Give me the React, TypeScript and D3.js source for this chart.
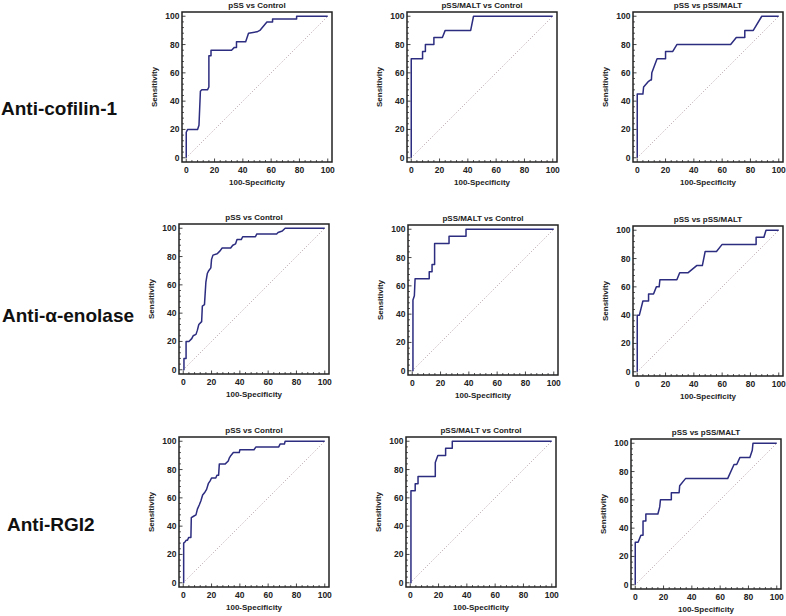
import React from "react";
import * as d3 from "d3";

type Pt = [number, number];

// ---- data (100-Specificity, Sensitivity) ----
const cofilinPssCtrl: Pt[] = [[0,0],[0,18],[1,20],[8,20],[9,23],[10,47],[11,48],[15,48],[16,50],[16,72],[17.5,72],[17.5,76],[32,76],[34,78],[35.5,78],[35.5,82],[42,82],[44,88],[50,89],[52,90],[57,96],[61,96],[61,98],[78,98],[78,100],[100,100]];
const cofilinMaltCtrl: Pt[] = [[0,0],[0,70],[8,70],[8,75],[10,75],[10,80],[16,80],[16,85],[22,85],[24,90],[42,90],[44,100],[100,100]];
const cofilinPssMalt: Pt[] = [[0,0],[0,45],[4,45],[4.5,50],[8,54],[9.5,55],[10,55],[10.3,60],[14,70],[20,70],[20,75],[25,75],[28,80],[66,80],[70,85],[76,85],[76,90],[82,90],[88,100],[100,100]];
const enolasePssCtrl: Pt[] = [[0,0],[0.5,0],[0.5,8],[2,8],[2,20],[4,20],[6,22],[7,24],[9,25],[10,28],[11,32],[13,34],[13.5,45],[15,46],[16,62],[17,68],[18,70],[19.5,72],[20,78],[21,81],[24,82],[26,84],[27.5,86],[33.5,86],[35,88],[37,89],[38,92],[41,92],[42,94],[51,94],[52,96],[66,96],[67,97],[70,98],[72,100],[100,100]];
const enolaseMaltCtrl: Pt[] = [[0,0],[0.5,0],[0.5,50],[1.5,53],[2,65],[12,65],[12,70],[14,70],[14,75],[15.8,75],[15.8,90],[26,90],[26,95],[38,95],[38,100],[100,100]];
const enolasePssMalt: Pt[] = [[0,0],[0,40],[1.5,40],[4,50],[8,50],[8,55],[11.5,55],[13.5,60],[15.5,60],[16,65],[28,65],[30,70],[36,70],[42,75],[46,75],[48,85],[56,85],[60,90],[84,90],[84,95],[89.5,95],[91,100],[100,100]];
const rgiPssCtrl: Pt[] = [[0,0],[0.3,0],[0.3,28],[1.4,29],[2,30],[3,30],[3.8,32],[5.4,32],[5.7,46],[7.3,47],[9,48],[10,52],[11.3,55],[12.5,58],[13.7,62],[15.3,64],[16.5,66],[17.7,70],[19,72],[20,74],[23,74],[23.8,76],[25,76],[25.5,84],[29.7,84],[31.8,86],[32.5,88],[33.7,90],[35.4,92],[39.6,92],[40,94],[50,94],[51.4,96],[67.5,96],[68.4,98],[71.5,98],[72,100],[100,100]];
const rgiMaltCtrl: Pt[] = [[0,0],[0.5,0],[0.5,65],[3.5,65],[3.5,70],[5.5,70],[5.5,75],[17.7,75],[17.7,85],[19.5,90],[25,90],[25,95],[29.7,95],[29.7,100],[100,100]];
const rgiPssMalt: Pt[] = [[0,0],[0,30],[2,30],[4,35],[5.5,35],[5.5,45],[7.5,45],[7.5,50],[16,50],[17.3,55],[17.8,60],[25.5,60],[25.5,65],[31,65],[31.4,70],[35.5,75],[65.3,75],[69.8,85],[71.7,85],[74,90],[81,90],[82.7,95],[83.2,100],[100,100]];

const rowLabels = ["Anti-cofilin-1", "Anti-\u03b1-enolase", "Anti-RGI2"];
const panelTitles = ["pSS vs Control", "pSS/MALT vs Control", "pSS vs pSS/MALT"];
const tickValues = [0, 20, 40, 60, 80, 100];
const minorTicks = [4, 8, 12, 16, 24, 28, 32, 36, 44, 48, 52, 56, 64, 68, 72, 76, 84, 88, 92, 96];
const xAxisLabel = "100-Specificity";
const yAxisLabel = "Sensitivity";

const seriesGrid: Pt[][][] = [
  [cofilinPssCtrl, cofilinMaltCtrl, cofilinPssMalt],
  [enolasePssCtrl, enolaseMaltCtrl, enolasePssMalt],
  [rgiPssCtrl, rgiMaltCtrl, rgiPssMalt],
];

// ---- layout ----
const boxes = [
  [[182, 12], [407, 12], [633, 12]],
  [[179, 224], [408, 225], [633, 226]],
  [[179, 437], [406, 437], [631, 439]],
];
const BOX = 150;
const rowLabelPos = [[1, 115], [2, 322], [7, 531]];
const FONT = "'Liberation Sans', Arial, Helvetica, sans-serif";

function Panel({ x0, y0, title, data }: { x0: number; y0: number; title: string; data: Pt[] }) {
  const x = d3.scaleLinear().domain([-3, 103]).range([x0, x0 + BOX]);
  const y = d3.scaleLinear().domain([-3, 103]).range([y0 + BOX, y0]);
  const line = d3.line<Pt>().x((d) => x(d[0])).y((d) => y(d[1]));
  const bottom = y0 + BOX;
  return (
    <g>
      <text x={x0 + BOX / 2} y={y0 - 4.5} textAnchor="middle" fontSize={8} fontWeight="bold" fill="#222">{title}</text>
      <line x1={x(0)} y1={y(0)} x2={x(100)} y2={y(100)} stroke="#a8909c" strokeWidth={0.9} strokeDasharray="1 2" />
      <path d={line(data) || ""} fill="none" stroke="#2c2c80" strokeWidth={1.5} strokeLinejoin="round" />
      {minorTicks.map((t) => (
        <g key={"m" + t}>
          <line x1={x(t)} x2={x(t)} y1={bottom} y2={bottom - 2} stroke="#333" strokeWidth={0.8} />
          <line x1={x0} x2={x0 + 2} y1={y(t)} y2={y(t)} stroke="#333" strokeWidth={0.8} />
        </g>
      ))}
      {tickValues.map((t) => (
        <g key={"t" + t}>
          <line x1={x(t)} x2={x(t)} y1={bottom} y2={bottom - 3.5} stroke="#333" strokeWidth={0.9} />
          <line x1={x0} x2={x0 + 3.5} y1={y(t)} y2={y(t)} stroke="#333" strokeWidth={0.9} />
          <text x={x(t)} y={bottom + 10.5} textAnchor="middle" fontSize={8.5} fontWeight="bold" fill="#222">{t}</text>
          <text x={x0 - 2.5} y={y(t) + 3} textAnchor="end" fontSize={8.5} fontWeight="bold" fill="#222">{t}</text>
        </g>
      ))}
      <rect x={x0} y={y0} width={BOX} height={BOX} fill="none" stroke="#222" strokeWidth={1.5} />
      <text x={x0 + BOX / 2} y={bottom + 22.5} textAnchor="middle" fontSize={8} fontWeight="bold" fill="#222">{xAxisLabel}</text>
      <text transform={`translate(${x0 - 25},${y0 + BOX / 2}) rotate(-90)`} textAnchor="middle" fontSize={8} fontWeight="bold" fill="#222">{yAxisLabel}</text>
    </g>
  );
}

export default function App() {
  return (
    <svg width={786} height={616} style={{ position: "absolute", left: 0, top: 0, background: "#fff" }} fontFamily={FONT}>
      <rect width={786} height={616} fill="#fff" />
      {rowLabels.map((lab, r) => (
        <text key={lab} x={rowLabelPos[r][0]} y={rowLabelPos[r][1]} fontSize={19} fontWeight="bold" fill="#111">{lab}</text>
      ))}
      {seriesGrid.map((row, r) =>
        row.map((data, c) => (
          <Panel key={r + "-" + c} x0={boxes[r][c][0]} y0={boxes[r][c][1]} title={panelTitles[c]} data={data} />
        ))
      )}
    </svg>
  );
}
